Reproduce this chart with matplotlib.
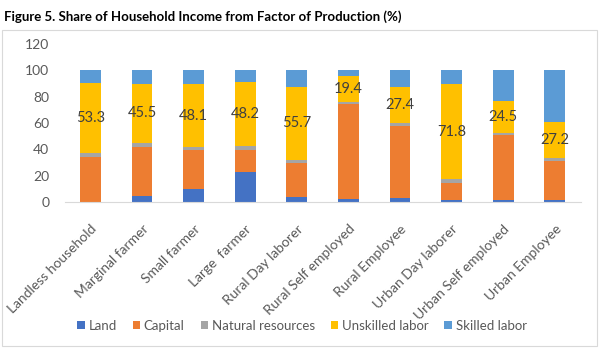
import matplotlib
matplotlib.use("Agg")
import matplotlib.pyplot as plt
from matplotlib.patches import Rectangle
import numpy as np

categories = ["Landless household", "Marginal farmer", "Small farmer", "Large  farmer",
              "Rural Day laborer", "Rural Self employed", "Rural Employee",
              "Urban Day laborer", "Urban Self employed", "Urban Employee"]
land = [0.0, 4.3, 10.2, 22.6, 3.8, 2.5, 3.0, 1.3, 1.5, 1.3]
capital = [34.0, 37.2, 29.2, 16.8, 25.5, 72.1, 54.8, 13.5, 49.1, 30.0]
natural = [3.0, 3.0, 2.1, 3.3, 2.7, 1.5, 2.2, 2.8, 1.6, 2.3]
unskilled = [53.3, 45.5, 48.1, 48.2, 55.7, 19.4, 27.4, 71.8, 24.5, 27.2]
skilled = [9.7, 10.0, 10.4, 9.1, 12.3, 4.5, 12.6, 10.6, 23.3, 39.2]
series_names = ["Land", "Capital", "Natural resources", "Unskilled labor", "Skilled labor"]
colors = ["#4472C4", "#ED7D31", "#A5A5A5", "#FFC000", "#5B9BD5"]
yticks = [0, 20, 40, 60, 80, 100, 120]

plt.rcParams['font.family'] = ['Lato', 'DejaVu Sans']
fig = plt.figure(figsize=(6.02, 3.51), dpi=100)
W, H = 602, 351
fig.patches.append(Rectangle((2 / W, 5 / H), 595 / W, 316 / H, transform=fig.transFigure,
                             fill=False, edgecolor="#D9D9D9", linewidth=0.8))
ax = fig.add_axes([64.6 / W, 149 / H, 516 / W, 158 / H])

x = np.arange(len(categories))
bottom = np.zeros(len(categories))
bars = {}
for name, vals, c in zip(series_names, [land, capital, natural, unskilled, skilled], colors):
    b = ax.bar(x, vals, bottom=bottom, width=0.4, color=c, label=name)
    bars[name] = (b, bottom.copy(), np.array(vals))
    bottom += np.array(vals)

b, bot, vals = bars["Unskilled labor"]
for xi, bo, v in zip(x, bot, vals):
    ax.text(xi, bo + v / 2, f"{v:.1f}", ha="center", va="center", fontsize=10.5, color="#404040")

ax.set_xlim(-0.5, len(categories) - 0.5)
ax.set_ylim(0, 120)
ax.set_yticks(yticks)
ax.set_yticklabels([str(t) for t in yticks], fontsize=10, color="#595959")
ax.set_xticks(x)
ax.set_xticklabels(categories, rotation=45, ha="right", rotation_mode="anchor",
                   fontsize=10, color="#595959")
ax.tick_params(axis="both", length=0)
ax.tick_params(axis="y", pad=11)
ax.tick_params(axis="x", pad=15)
for s in ["top", "right", "left"]:
    ax.spines[s].set_visible(False)
ax.spines["bottom"].set_color("#D9D9D9")

ax.legend(loc="center", bbox_to_anchor=(302 / W, 25 / H), bbox_transform=fig.transFigure,
          ncol=5, frameon=False, fontsize=9.5, handlelength=0.55, handleheight=0.55,
          handletextpad=0.3, columnspacing=1.2, labelcolor="#595959")

fig.text(4 / W, 1 - 17 / H, "Figure 5. Share of Household Income from Factor of Production (%)",
         ha="left", va="center", fontsize=9.5, fontweight="bold", color="black")

fig.savefig("out.png", dpi=100)
